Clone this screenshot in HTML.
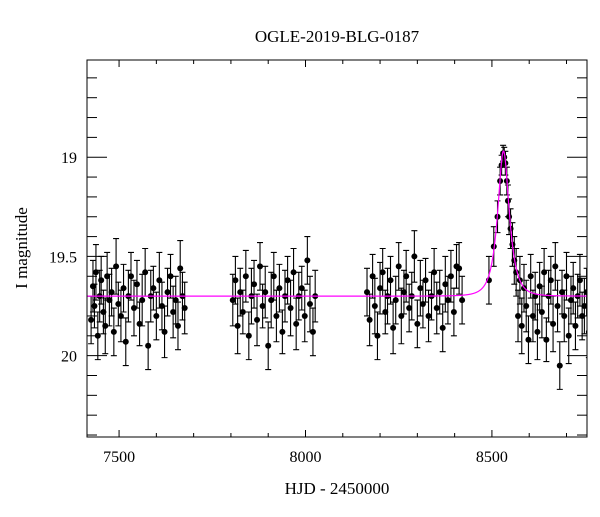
<!DOCTYPE html>
<html><head><meta charset="utf-8"><style>
body{margin:0;background:#fff}
svg text{font-family:"Liberation Serif",serif;fill:#000}
</style></head><body>
<svg id="chart" width="600" height="512" viewBox="0 0 600 512">
<text x="337" y="42" text-anchor="middle" font-size="17">OGLE-2019-BLG-0187</text>
<text x="337" y="494" text-anchor="middle" font-size="17">HJD - 2450000</text>
<text transform="translate(27,248) rotate(-90)" text-anchor="middle" font-size="17">I magnitude</text>
<g id="plot"></g>
</svg>
<script>
const times=[7425,7430,7434,7438,7443,7448,7452,7458,7463,7468,7474,7480,7486,7492,7498,7505,7512,7518,7525,7532,7540,7548,7555,7562,7570,7578,7585,7592,7600,7608,7615,7622,7630,7638,7645,7652,7658,7664,7670,7676,
7805,7812,7818,7825,7832,7840,7848,7855,7862,7870,7878,7885,7892,7900,7908,7915,7922,7930,7938,7945,7952,7960,7968,7975,7982,7990,7998,8005,8012,8020,8026,
8165,8172,8180,8186,8193,8200,8207,8214,8220,8228,8235,8242,8250,8257,8264,8270,8278,8285,8292,8300,8308,8315,8322,8330,8338,8345,8352,8360,8368,8375,8382,8390,8398,8405,8412,8420,
8492,8505,8515,8522,8526,8530,8533,8536,8540,8543,8546,8550,8555,8560,8565,8570,8575,8580,8586,8592,8598,8604,8610,8616,8622,8628,8634,8640,8646,8652,8658,8664,8670,8676,8682,8688,8694,8700,8706,8712,8718,8724,8730,8736,8742,8748,8754,8760,8766,8772];
const mags=[19.82,19.65,19.75,19.58,19.9,19.7,19.62,19.78,19.85,19.6,19.72,19.68,19.88,19.55,19.74,19.8,19.66,19.93,19.7,19.6,19.76,19.64,19.84,19.72,19.58,19.95,19.7,19.66,19.8,19.62,19.75,19.88,19.68,19.6,19.78,19.72,19.85,19.56,19.7,19.76,
19.72,19.62,19.85,19.68,19.78,19.6,19.9,19.7,19.64,19.82,19.55,19.75,19.68,19.95,19.72,19.6,19.8,19.66,19.88,19.7,19.62,19.76,19.58,19.84,19.7,19.66,19.8,19.52,19.74,19.88,19.7,
19.68,19.82,19.6,19.75,19.9,19.66,19.58,19.78,19.7,19.62,19.86,19.72,19.55,19.8,19.68,19.6,19.76,19.7,19.5,19.84,19.66,19.74,19.62,19.8,19.7,19.58,19.76,19.68,19.86,19.64,19.72,19.6,19.78,19.55,19.56,19.72,
19.62,19.45,19.3,19.12,19.04,18.98,19.0,19.03,19.12,19.22,19.3,19.36,19.44,19.52,19.58,19.8,19.62,19.85,19.66,19.75,19.92,19.6,19.8,19.7,19.88,19.65,19.78,19.58,19.92,19.7,19.62,19.84,19.55,19.75,20.05,19.68,19.8,19.6,19.9,19.72,19.66,19.85,19.7,19.62,19.8,19.75,19.68,19.88,19.72,19.98];
const errs=[0.12,0.13,0.11,0.14,0.12,0.13,0.12,0.11,0.14,0.12,0.13,0.12,0.12,0.14,0.11,0.13,0.12,0.12,0.13,0.12,0.14,0.12,0.11,0.13,0.12,0.12,0.13,0.11,0.12,0.14,0.12,0.13,0.12,0.11,0.13,0.12,0.12,0.14,0.12,0.13,
0.13,0.12,0.14,0.12,0.11,0.13,0.12,0.14,0.12,0.13,0.12,0.11,0.13,0.12,0.14,0.12,0.13,0.12,0.11,0.13,0.12,0.14,0.12,0.13,0.12,0.11,0.13,0.12,0.14,0.12,0.13,
0.12,0.13,0.11,0.14,0.12,0.13,0.12,0.11,0.14,0.12,0.13,0.12,0.12,0.14,0.11,0.13,0.12,0.12,0.13,0.12,0.14,0.12,0.11,0.13,0.12,0.12,0.13,0.11,0.12,0.14,0.12,0.13,0.12,0.11,0.13,0.12,
0.12,0.1,0.08,0.07,0.05,0.04,0.05,0.06,0.07,0.08,0.09,0.1,0.11,0.12,0.12,0.13,0.12,0.14,0.12,0.13,0.12,0.11,0.13,0.12,0.14,0.12,0.13,0.12,0.11,0.13,0.12,0.14,0.12,0.13,0.12,0.11,0.13,0.12,0.14,0.12,0.13,0.12,0.11,0.13,0.12,0.14,0.12,0.13,0.12,0.12];
const xTicks=[7500,8000,8500];
const yTicks=[19,19.5,20];
const model={t0:8531,tE:25,u0:0.57,base:19.70};

const L=87,R=587,T=60,B=437,X0=7414,X1=8755,Y0=18.51,Y1=20.41;
const xs=v=>L+(v-X0)/(X1-X0)*(R-L);
const ys=v=>T+(v-Y0)/(Y1-Y0)*(B-T);
const NS="http://www.w3.org/2000/svg";
const g=document.getElementById('plot');
function mk(tag,a){const e=document.createElementNS(NS,tag);for(const k in a)e.setAttribute(k,a[k]);g.appendChild(e);return e;}
const clip=mk('clipPath',{id:'pc'});const cr=document.createElementNS(NS,'rect');cr.setAttribute('x',L);cr.setAttribute('y',T);cr.setAttribute('width',R-L);cr.setAttribute('height',B-T);clip.appendChild(cr);
for(let v=7500;v<=8700;v+=100){const maj=v%500===0;const x=xs(v);const len=maj?7:4;
 let e=mk('line',{x1:x,x2:x,y1:B,y2:B-len,stroke:'#000'});
 e=mk('line',{x1:x,x2:x,y1:T,y2:T+len,stroke:'#000'});}
for(let i=1;i<=19;i++){const m=18.5+i*0.1;if(m<Y0||m>Y1)continue;const y=ys(m);const maj=Math.abs(m*2-Math.round(m*2))<1e-6;const len=maj?20:10;
 let e=mk('line',{x1:L,x2:L+len,y1:y,y2:y,stroke:'#000'});
 e=mk('line',{x1:R,x2:R-len,y1:y,y2:y,stroke:'#000'});}
xTicks.forEach(v=>{const e=mk('text',{x:xs(v),y:B+25,'text-anchor':'middle','font-size':16});e.textContent=v;});
yTicks.forEach(v=>{const e=mk('text',{x:L-10,y:ys(v)+6,'text-anchor':'end','font-size':16});e.textContent=v;});
times.forEach((t,i)=>{const x=xs(t),y=ys(mags[i]),e1=ys(mags[i]-errs[i]),e2=ys(mags[i]+errs[i]);
 let e=mk('path',{d:`M${x},${e1}V${e2}M${x-3},${e1}h6M${x-3},${e2}h6`,stroke:'#000','stroke-width':1.1,fill:'none','clip-path':'url(#pc)'});
 e=mk('circle',{cx:x,cy:y,r:3,fill:'#000','clip-path':'url(#pc)'});});
let d='';for(let t=X0;t<=X1;t+=0.5){const u=Math.hypot(model.u0,(t-model.t0)/model.tE);const A=(u*u+2)/(u*Math.sqrt(u*u+4));const m=model.base-2.5*Math.log10(A);d+=(d?'L':'M')+xs(t).toFixed(2)+','+ys(m).toFixed(2);}
let e=mk('path',{d:d,stroke:'#ff00ff','stroke-width':1.2,fill:'none'});
e=mk('rect',{x:L,y:T,width:R-L,height:B-T,fill:'none',stroke:'#000','stroke-width':1});
</script>
</body></html>
